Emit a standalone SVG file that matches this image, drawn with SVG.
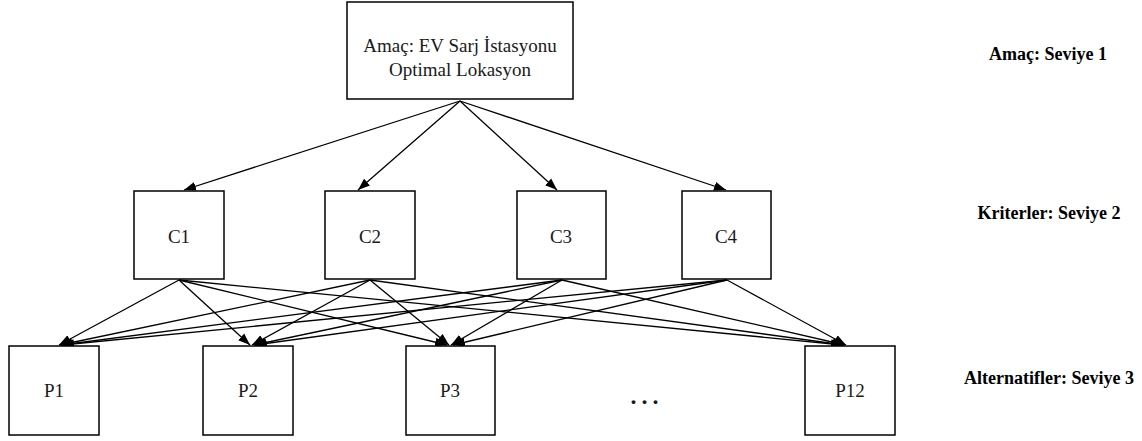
<svg xmlns="http://www.w3.org/2000/svg" width="1142" height="441" viewBox="0 0 1142 441">
  <style>
    .box { fill: #ffffff; stroke: #000000; stroke-width: 1.5; }
    .lbl { font-family: "Liberation Serif", "DejaVu Serif", serif; font-size: 19px; fill: #1a1a1a; text-anchor: middle; }
    .lvl { font-family: "Liberation Serif", "DejaVu Serif", serif; font-size: 18px; font-weight: bold; fill: #000000; text-anchor: middle; }
    .edge { stroke: #000000; stroke-width: 1.3; fill: none; marker-end: url(#arrow); }
  </style>
  <defs>
    <marker id="arrow" viewBox="0 0 12 10" refX="12" refY="5" markerWidth="12" markerHeight="10" markerUnits="userSpaceOnUse" orient="auto">
      <path d="M0,0.5 L12,5 L0,9.5 z" fill="#000000"/>
    </marker>
  </defs>

  <!-- connectors -->
  <g id="connectors">
    <!-- goal to criteria -->
    <line class="edge" x1="460" y1="101" x2="184" y2="190"/>
    <line class="edge" x1="460" y1="101" x2="358" y2="190"/>
    <line class="edge" x1="460" y1="101" x2="557" y2="190"/>
    <line class="edge" x1="460" y1="101" x2="726" y2="190"/>
    <!-- C1 to alternatives -->
    <line class="edge" x1="179" y1="280" x2="59" y2="345"/>
    <line class="edge" x1="179" y1="280" x2="250" y2="345"/>
    <line class="edge" x1="179" y1="280" x2="447" y2="345"/>
    <line class="edge" x1="179" y1="280" x2="843" y2="345"/>
    <!-- C2 to alternatives -->
    <line class="edge" x1="370" y1="280" x2="60" y2="345"/>
    <line class="edge" x1="370" y1="280" x2="252" y2="345"/>
    <line class="edge" x1="370" y1="280" x2="449" y2="345"/>
    <line class="edge" x1="370" y1="280" x2="844" y2="345"/>
    <!-- C3 to alternatives -->
    <line class="edge" x1="562" y1="280" x2="61" y2="345"/>
    <line class="edge" x1="562" y1="280" x2="254" y2="345"/>
    <line class="edge" x1="562" y1="280" x2="451" y2="345"/>
    <line class="edge" x1="562" y1="280" x2="845" y2="345"/>
    <!-- C4 to alternatives -->
    <line class="edge" x1="727" y1="280" x2="62" y2="345"/>
    <line class="edge" x1="727" y1="280" x2="255" y2="345"/>
    <line class="edge" x1="727" y1="280" x2="453" y2="345"/>
    <line class="edge" x1="727" y1="280" x2="846" y2="345"/>
  </g>

  <!-- goal -->
  <g id="goal">
    <rect class="box" x="347" y="2" width="226" height="97"/>
    <text class="lbl" x="460" y="52">Amaç: EV Sarj İstasyonu</text>
    <text class="lbl" x="460" y="76">Optimal Lokasyon</text>
  </g>

  <!-- criteria -->
  <g id="c1"><rect class="box" x="134" y="191" width="90" height="88"/><text class="lbl" x="179" y="243">C1</text></g>
  <g id="c2"><rect class="box" x="325" y="191" width="90" height="88"/><text class="lbl" x="370" y="243">C2</text></g>
  <g id="c3"><rect class="box" x="517" y="191" width="89" height="88"/><text class="lbl" x="561" y="243">C3</text></g>
  <g id="c4"><rect class="box" x="682" y="191" width="89" height="88"/><text class="lbl" x="726" y="243">C4</text></g>

  <!-- alternatives -->
  <g id="p1"><rect class="box" x="9" y="346" width="90" height="89"/><text class="lbl" x="54" y="397">P1</text></g>
  <g id="p2"><rect class="box" x="203" y="346" width="90" height="89"/><text class="lbl" x="248" y="397">P2</text></g>
  <g id="p3"><rect class="box" x="406" y="346" width="89" height="89"/><text class="lbl" x="450" y="397">P3</text></g>
  <g id="p12"><rect class="box" x="805" y="346" width="90" height="89"/><text class="lbl" x="850" y="397">P12</text></g>
  <g id="ellipsis"><text class="lbl" x="647" y="404" style="font-size:24px; font-weight:bold; letter-spacing:5px">...</text></g>

  <!-- level labels -->
  <g id="levels">
    <text class="lvl" x="1048" y="60">Amaç: Seviye 1</text>
    <text class="lvl" x="1049" y="219">Kriterler: Seviye 2</text>
    <text class="lvl" x="1049" y="384">Alternatifler: Seviye 3</text>
  </g>
</svg>
